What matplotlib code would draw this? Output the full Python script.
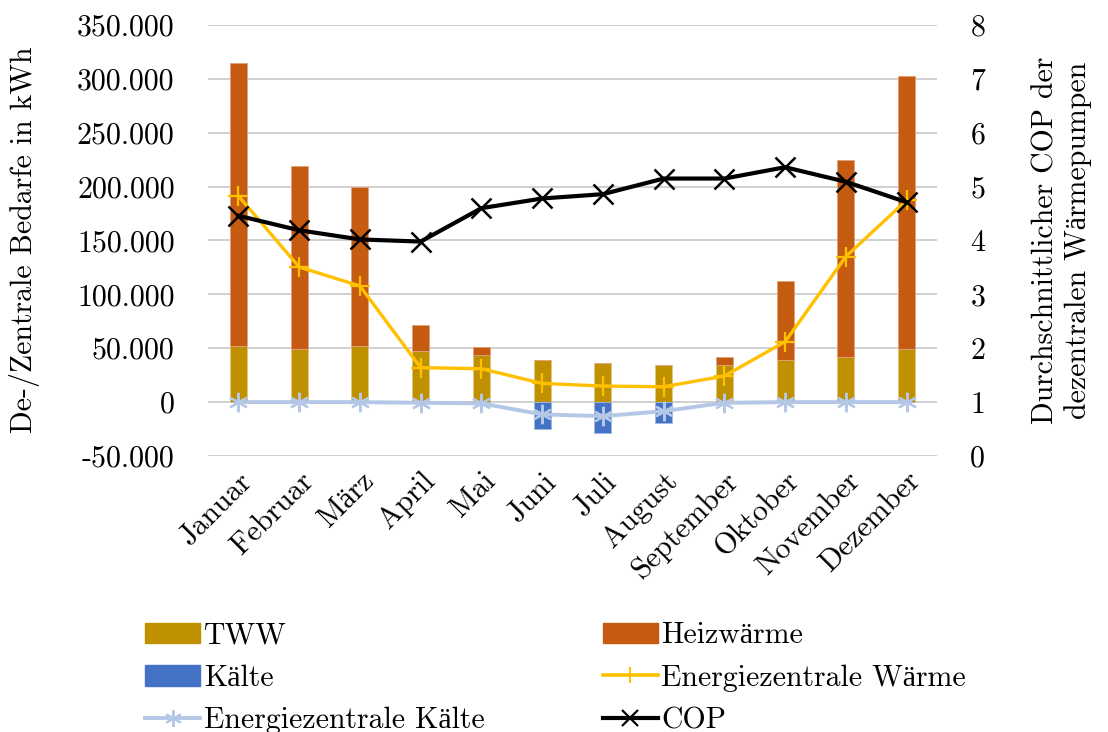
import matplotlib
matplotlib.use("Agg")
import matplotlib.pyplot as plt
import numpy as np
from matplotlib.lines import Line2D
from matplotlib.patches import Patch

plt.rcParams['font.family'] = ['cmr10', 'Liberation Serif']
plt.rcParams['axes.unicode_minus'] = False

months = ["Januar", "Februar", "März", "April", "Mai", "Juni", "Juli",
          "August", "September", "Oktober", "November", "Dezember"]
tww = [52000, 49000, 52500, 47400, 43400, 38800, 36000, 34400, 34400, 38800, 41800, 49000]
heiz = [262700, 170400, 147300, 24200, 7700, 0, 0, 0, 7800, 74000, 183100, 253600]
kaelte = [0, 0, 0, 0, 0, -25400, -28400, -19800, 0, 0, 0, 0]
ez_waerme = [191400, 125400, 107800, 32000, 31000, 17400, 14900, 14300, 24200, 56100, 135100, 187400]
ez_kaelte = [0, 0, 0, -600, -1200, -11400, -13000, -8400, -600, 0, 0, 0]
cop = [4.46, 4.19, 4.02, 3.98, 4.60, 4.78, 4.86, 5.15, 5.15, 5.36, 5.09, 4.71]

left_ticks = [-50000, 0, 50000, 100000, 150000, 200000, 250000, 300000, 350000]
left_labels = ["-50.000", "0", "50.000", "100.000", "150.000", "200.000", "250.000", "300.000", "350.000"]
right_ticks = [0, 1, 2, 3, 4, 5, 6, 7, 8]

c_tww = "#BF9000"
c_heiz = "#C55A11"
c_kaelte = "#4472C4"
c_ezw = "#FFC000"
c_ezk = "#B4C7E7"

FS = 21.5

fig = plt.figure(figsize=(11.08, 7.32), dpi=100)
ax = fig.add_axes([208/1108, 1-456/732, (937-208)/1108, (456-25)/732])
ax2 = ax.twinx()

x = np.arange(len(months))
w = 0.28
ax.bar(x, tww, w, color=c_tww, edgecolor="#E0C880", linewidth=0.6, zorder=2)
ax.bar(x, heiz, w, bottom=tww, color=c_heiz, edgecolor="#E0A080", linewidth=0.6, zorder=2)
ax.bar(x, kaelte, w, color=c_kaelte, edgecolor="#A0B8E0", linewidth=0.6, zorder=2)
ax.plot(x, ez_waerme, color=c_ezw, lw=2.4, marker="+", ms=14, mew=1.6, zorder=4)
ax.plot(x, ez_kaelte, color=c_ezk, lw=2.8, marker=(6, 2, 0), ms=14, mew=1.6, zorder=4)
ax2.plot(x, cop, color="black", lw=3.0, marker="x", ms=14, mew=1.8, zorder=5)

ax.set_ylim(-50000, 350000)
ax2.set_ylim(0, 8)
ax.set_xlim(-0.5, 11.5)
ax.set_yticks(left_ticks)
ax.set_yticklabels(left_labels)
ax2.set_yticks(right_ticks)
ax2.set_yticklabels([str(t) for t in right_ticks])
ax.set_xticks(x)
ax.set_xticklabels(months, rotation=45, ha="right", rotation_mode="anchor")

ax.grid(axis="y", color="#D0D0D0", lw=1.4, zorder=0)
ax.set_axisbelow(True)
for a in (ax, ax2):
    for s in a.spines.values():
        s.set_visible(False)
    a.tick_params(length=0, labelsize=FS, colors="black")
ax.tick_params(axis="y", pad=24)
ax2.tick_params(axis="y", pad=24)
ax.tick_params(axis="x", pad=8)

fig.text(25/1108, 1-240/732, "De-/Zentrale Bedarfe in kWh", fontsize=FS,
         rotation=90, ha="center", va="center")
fig.text(1062/1108, 1-240/732, "Durchschnittlicher COP der\ndezentralen Wärmepumpen",
         fontsize=FS, rotation=90, ha="center", va="center", multialignment="center",
         linespacing=1.2)

handles = [
    Patch(facecolor=c_tww, edgecolor=c_tww),
    Patch(facecolor=c_kaelte, edgecolor=c_kaelte),
    Line2D([], [], color=c_ezk, lw=2.8, marker=(6, 2, 0), ms=12, mew=1.4),
    Patch(facecolor=c_heiz, edgecolor=c_heiz),
    Line2D([], [], color=c_ezw, lw=2.6, marker="+", ms=12, mew=1.4),
    Line2D([], [], color="black", lw=3.0, marker="x", ms=12, mew=1.6),
]
labels = ["TWW", "Kälte", "Energiezentrale Kälte", "Heizwärme",
          "Energiezentrale Wärme", "COP"]
fig.legend(handles, labels, ncol=2, loc="upper left", bbox_to_anchor=(145/1108, 1-622/732),
           frameon=False, fontsize=FS, handlelength=1.85, handleheight=0.7, handletextpad=0.12,
           columnspacing=3.95, labelspacing=0.5, borderaxespad=0, borderpad=0)

fig.savefig("out.png", dpi=100)
